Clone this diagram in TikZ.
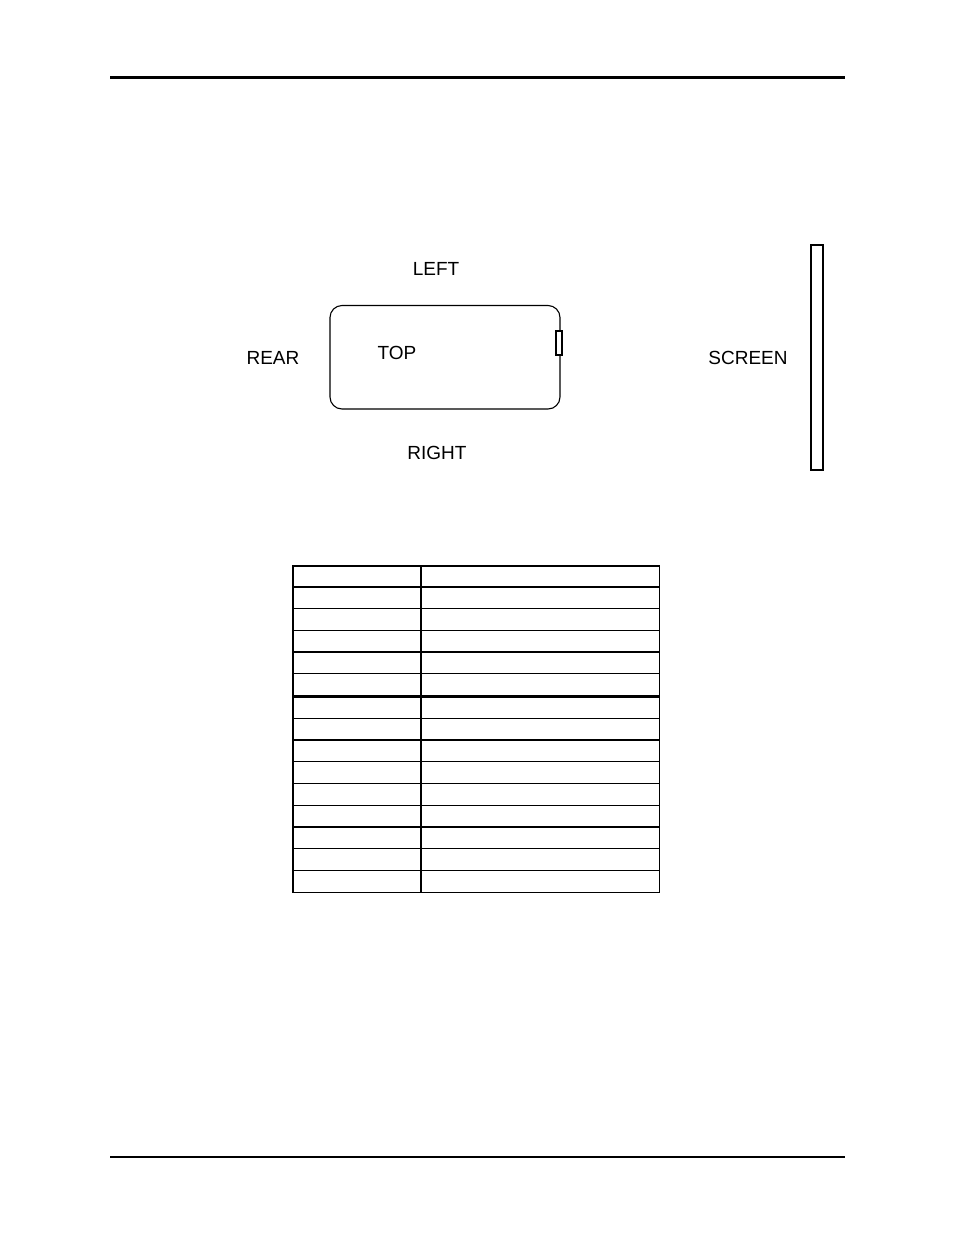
\documentclass[tikz,border=0pt]{standalone}
\usepackage{fontspec}
\setmainfont{Liberation Sans}
\begin{document}
\begin{tikzpicture}[x=1pt,y=-1pt,
  lbl/.style={font=\fontsize{19}{19}\selectfont, inner sep=0pt, anchor=center},
  thin/.style={line width=1.1pt},
  thick2/.style={line width=2.2pt}]
\useasboundingbox (0,0) rectangle (954,1235);
% header/footer rules
\draw[line width=2.4pt] (110,77.5) -- (845,77.5);
\draw[line width=1.3pt] (110,1157) -- (845,1157);
% unit
\draw[thin, rounded corners=12pt] (330,305.5) rectangle (560,409) node[pos=0,inner sep=0pt] (unit) {};
\draw[thin, fill=white] (556,331) rectangle (562,355);
% screen
\draw[thin] (811,245) rectangle (823,470);
% labels
\node[lbl] (left) at (436,269) {LEFT};
\node[lbl] (rear) at (273,358) {REAR};
\node[lbl] (top) at (397,353) {TOP};
\node[lbl] (right) at (437,453) {RIGHT};
\node[lbl] (screen) at (748,358) {SCREEN};
% table
\draw[line width=1.3pt] (293,566) rectangle (659.5,892.5);
\draw[line width=1.3pt] (421,566) -- (421,892.5);
\foreach \y in {608.3,630.2,652,673.5,718.3,740,761.8,783.6,805.2,826.9,848.6,870.4}{
  \draw[line width=1.3pt] (293,\y) -- (659.5,\y);
}
\draw[line width=2.3pt] (293,586.7) -- (659.5,586.7);
\draw[line width=2.3pt] (293,696.5) -- (659.5,696.5);
\end{tikzpicture}
\end{document}
